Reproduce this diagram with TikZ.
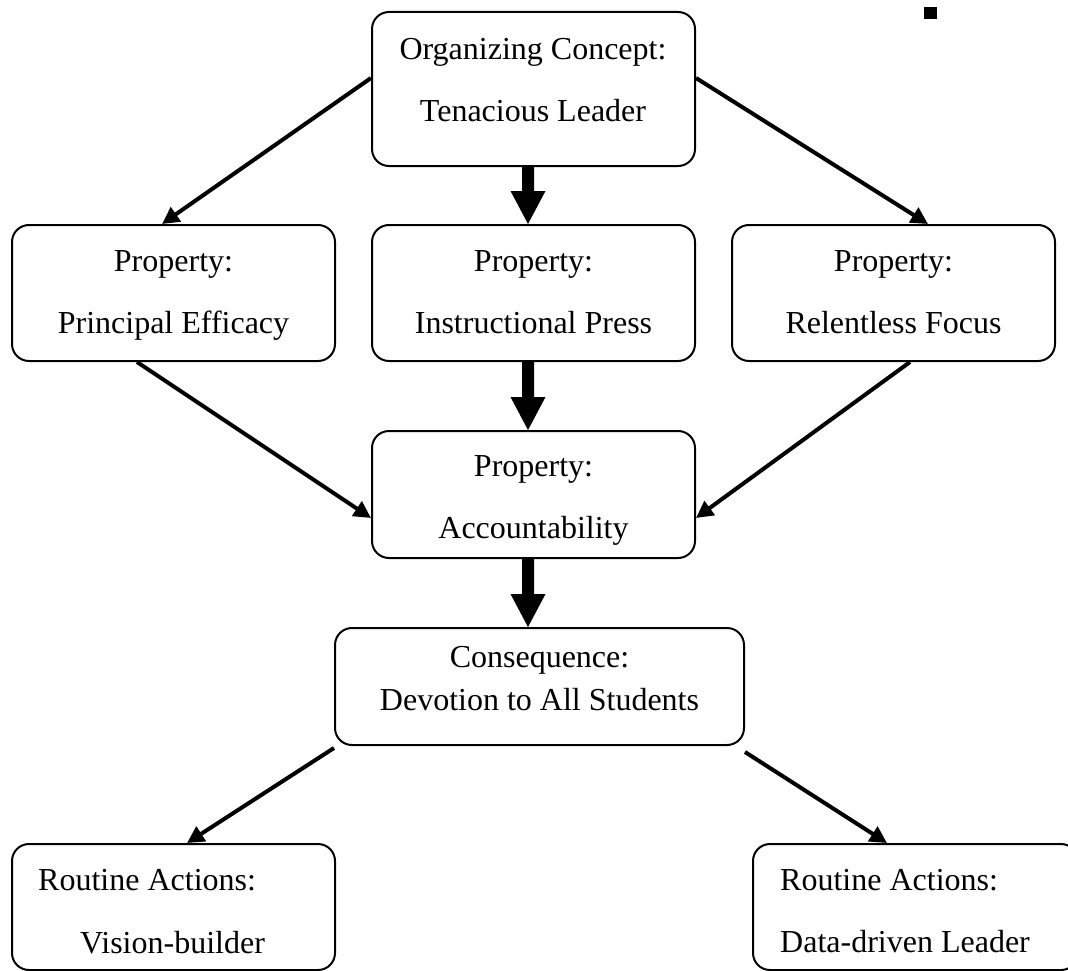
\documentclass[tikz,border=0pt]{standalone}
\usepackage{fontspec}
\setmainfont{Liberation Serif}
\usetikzlibrary{arrows.meta,calc}
\begin{document}
\begin{tikzpicture}[x=1pt,y=-1pt,
  box/.style={draw,line width=2pt,rounded corners=17pt},
  txt/.style={inner sep=0pt,anchor=base,font=\fontsize{32}{38}\selectfont},
  ltxt/.style={inner sep=0pt,anchor=base west,font=\fontsize{32}{38}\selectfont},
  thin/.style={line width=4pt,-{Triangle[length=17pt,width=17pt]}},
]
\useasboundingbox (0,0) rectangle (1068,971);
\clip (0,0) rectangle (1068,971);
\fill[white] (0,0) rectangle (1068,971);
% boxes
\node[box,minimum width=323pt,minimum height=154pt,inner sep=0pt] (oc) at (533.5,89) {};
\node[box,minimum width=323pt,minimum height=136pt,inner sep=0pt] (pe) at (173.5,293) {};
\node[box,minimum width=323pt,minimum height=136pt,inner sep=0pt] (ip) at (533.5,293) {};
\node[box,minimum width=323pt,minimum height=136pt,inner sep=0pt] (rf) at (893.5,293) {};
\node[box,minimum width=323pt,minimum height=127pt,inner sep=0pt] (ac) at (533.5,494.5) {};
\node[box,minimum width=409pt,minimum height=117pt,inner sep=0pt] (co) at (539.5,686.5) {};
\node[box,minimum width=323pt,minimum height=126pt,inner sep=0pt] (vb) at (173.5,907) {};
\node[box,minimum width=325pt,minimum height=126pt,inner sep=0pt] (dd) at (915.5,907) {};
% texts
\node[txt] (t1) at (533,60) {Organizing Concept:};
\node[txt] (t2) at (533,122) {Tenacious Leader};
\node[txt] (t3) at (173.5,271) {Property:};
\node[txt] (t4) at (173.5,333) {Principal Efficacy};
\node[txt] (t5) at (533.5,271) {Property:};
\node[txt] (t6) at (533.5,333) {Instructional Press};
\node[txt] (t7) at (893.5,271) {Property:};
\node[txt] (t8) at (893.5,333) {Relentless Focus};
\node[txt] (t9) at (533.5,476) {Property:};
\node[txt] (t10) at (533.5,538) {Accountability};
\node[txt] (t11) at (539.5,667) {Consequence:};
\node[txt] (t12) at (539.5,710) {Devotion to All Students};
\node[ltxt] (t13) at (38,890) {Routine Actions:};
\node[ltxt] (t14) at (80,953) {Vision-builder};
\node[ltxt] (t15) at (780,890) {Routine Actions:};
\node[ltxt] (t16) at (780,952) {Data-driven Leader};
% small square
\fill (924,7) rectangle (937,19);
% thin arrows
\draw[thin] (oc.west |- 0,78) -- (pe.north -| 162,0);
\draw[thin] (oc.east |- 0,78) -- (rf.north -| 928,0);
\draw[thin] (pe.south -| 137,0) -- (ac.west |- 0,518);
\draw[thin] (rf.south -| 910,0) -- (ac.east |- 0,518);
\draw[thin] (co.west |- 0,748) -- (vb.north -| 187,0);
\draw[thin] (co.east |- 0,752) -- (dd.north -| 887,0);
% thick arrows
\newcommand\bigarrow[2]{%
  \path (#1) coordinate (bas) (#2) coordinate (bae);
  \fill ($(bas)+(-6,0)$) -- ($(bae)+(-6,-33)$) -- ($(bae)+(-17.5,-33)$) -- (bae)
        -- ($(bae)+(17.5,-33)$) -- ($(bae)+(6,-33)$) -- ($(bas)+(6,0)$) -- cycle;}
\bigarrow{oc.south -| 528,0}{ip.north -| 528,0}
\bigarrow{ip.south -| 528,0}{ac.north -| 528,0}
\bigarrow{ac.south -| 528,0}{co.north -| 528,0}
\end{tikzpicture}
\end{document}
